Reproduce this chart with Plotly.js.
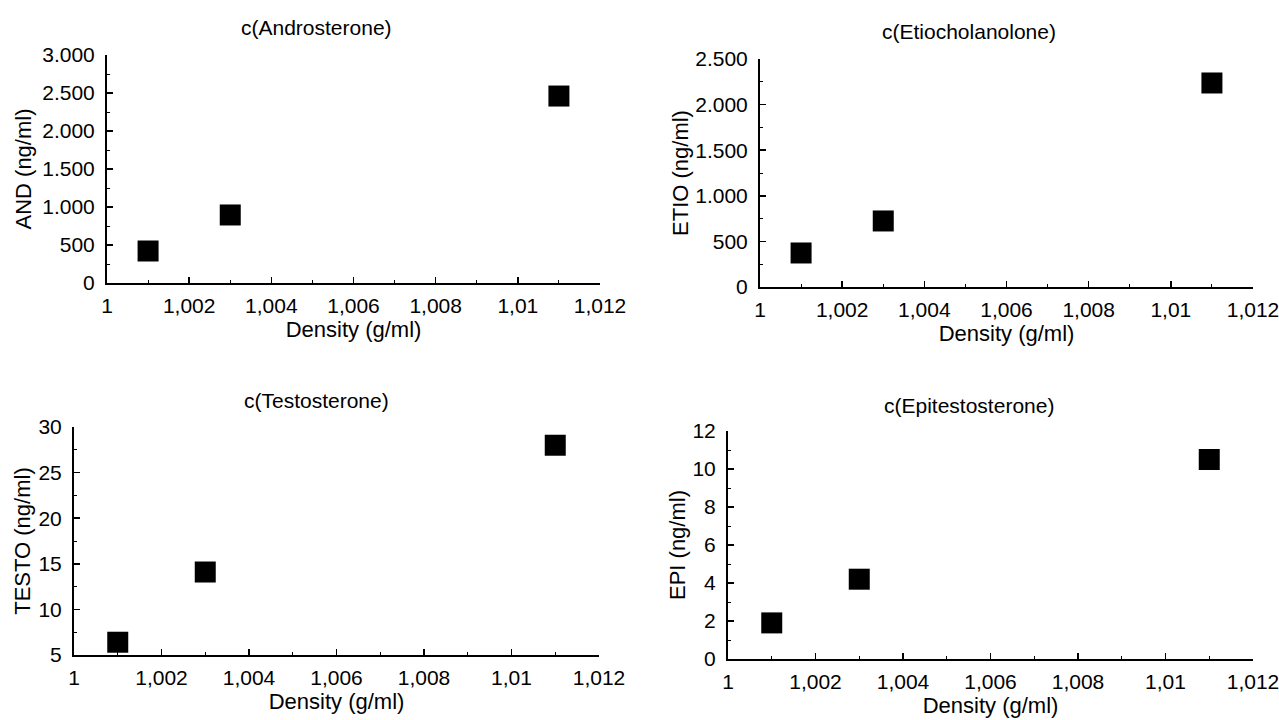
<!DOCTYPE html>
<html><head><meta charset="utf-8">
<script src="https://cdn.plot.ly/plotly-3.0.1.min.js"></script>
<style>html,body{margin:0;padding:0;background:#fff}</style>
</head><body><div id="chart" style="width:1279px;height:720px"></div>
<script>
// ---- data ----
const density = [1.001, 1.003, 1.011];
const andValues = [421, 895, 2460];
const etioValues = [373, 724, 2237];
const testoValues = [6.4, 14.1, 28.0];
const epiValues = [1.9, 4.2, 10.5];

const panelTitles = ['c(Androsterone)', 'c(Etiocholanolone)', 'c(Testosterone)', 'c(Epitestosterone)'];
const yTitles = ['AND (ng/ml)', 'ETIO (ng/ml)', 'TESTO (ng/ml)', 'EPI (ng/ml)'];
const xTitle = 'Density (g/ml)';

const xTickVals = [1, 1.002, 1.004, 1.006, 1.008, 1.01, 1.012];
const xTickText = ['1', '1,002', '1,004', '1,006', '1,008', '1,01', '1,012'];
const andTickVals = [0, 500, 1000, 1500, 2000, 2500, 3000];
const andTickText = ['0', '500', '1.000', '1.500', '2.000', '2.500', '3.000'];
const etioTickVals = [0, 500, 1000, 1500, 2000, 2500];
const etioTickText = ['0', '500', '1.000', '1.500', '2.000', '2.500'];
const testoTickVals = [5, 10, 15, 20, 25, 30];
const testoTickText = ['5', '10', '15', '20', '25', '30'];
const epiTickVals = [0, 2, 4, 6, 8, 10, 12];
const epiTickText = ['0', '2', '4', '6', '8', '10', '12'];

const W = 1279, H = 720;
const FONT = 'Liberation Sans, Arial, sans-serif';

function px(x) { return x / W; }
function py(y) { return 1 - y / H; }

const seriesList = [andValues, etioValues, testoValues, epiValues];
const traces = seriesList.map((vals, i) => ({
  type: 'scatter', mode: 'markers',
  x: density, y: vals,
  xaxis: i === 0 ? 'x' : 'x' + (i + 1),
  yaxis: i === 0 ? 'y' : 'y' + (i + 1),
  marker: {symbol: 'square', size: 21, color: '#000'},
  cliponaxis: false,
  showlegend: false,
  hoverinfo: 'x+y'
}));

// pixel boxes: [left, right, bottom, top]
const boxes = [
  [107, 600, 283, 55],
  [760, 1253, 287, 59],
  [74, 599, 655, 427],
  [728, 1253, 659, 431]
];
const yRanges = [[0, 3000], [0, 2500], [5, 30], [0, 12]];
const yTicks = [[andTickVals, andTickText, 250], [etioTickVals, etioTickText, 250], [testoTickVals, testoTickText, 2.5], [epiTickVals, epiTickText, 1]];

const layout = {
  width: W, height: H,
  margin: {l: 0, r: 0, t: 0, b: 0},
  paper_bgcolor: '#fff', plot_bgcolor: 'rgba(0,0,0,0)',
  font: {family: FONT, color: '#000', size: 21},
  showlegend: false,
  annotations: []
};

const titlePos = [[316, 28], [969, 32], [316, 400], [969, 405]];
const yStandoff = [5, 1, 2, 1];

boxes.forEach((b, i) => {
  const xk = i === 0 ? 'xaxis' : 'xaxis' + (i + 1);
  const yk = i === 0 ? 'yaxis' : 'yaxis' + (i + 1);
  const yid = i === 0 ? 'y' : 'y' + (i + 1);
  const xid = i === 0 ? 'x' : 'x' + (i + 1);
  layout[xk] = {
    domain: [px(b[0]), px(b[1])], anchor: yid,
    range: [1, 1.012],
    tickmode: 'array', tickvals: xTickVals, ticktext: xTickText,
    ticks: 'inside', ticklen: 6, tickwidth: 1.5, tickcolor: '#000',
    minor: {ticks: 'inside', ticklen: 3, tickwidth: 1, tickcolor: '#000', dtick: 0.001, tick0: 1},
    showline: true, linecolor: '#000', linewidth: 2,
    showgrid: false, zeroline: false,
    tickfont: {family: FONT, size: 21, color: '#000'},
    ticklabelstandoff: 3,
    ticklabeloverflow: 'allow',
    title: {text: xTitle, font: {family: FONT, size: 22, color: '#000'}, standoff: 4}
  };
  layout[yk] = {
    domain: [py(b[2]), py(b[3])], anchor: xid,
    range: yRanges[i],
    tickmode: 'array', tickvals: yTicks[i][0], ticktext: yTicks[i][1],
    ticks: 'inside', ticklen: 6, tickwidth: 1.5, tickcolor: '#000',
    minor: {ticks: 'inside', ticklen: 3, tickwidth: 1, tickcolor: '#000', dtick: yTicks[i][2], tick0: yRanges[i][0]},
    showline: true, linecolor: '#000', linewidth: 2,
    showgrid: false, zeroline: false,
    tickfont: {family: FONT, size: 21, color: '#000'},
    ticklabelstandoff: 6,
    ticklabeloverflow: 'allow',
    title: {text: yTitles[i], font: {family: FONT, size: 22, color: '#000'}, standoff: yStandoff[i]}
  };
  layout.annotations.push({
    text: panelTitles[i], xref: 'paper', yref: 'paper',
    x: px(titlePos[i][0]), y: py(titlePos[i][1]),
    xanchor: 'center', yanchor: 'middle', showarrow: false,
    font: {family: FONT, size: 21, color: '#000'}
  });
});

Plotly.newPlot('chart', traces, layout, {staticPlot: true, displayModeBar: false});
</script>
</body></html>
